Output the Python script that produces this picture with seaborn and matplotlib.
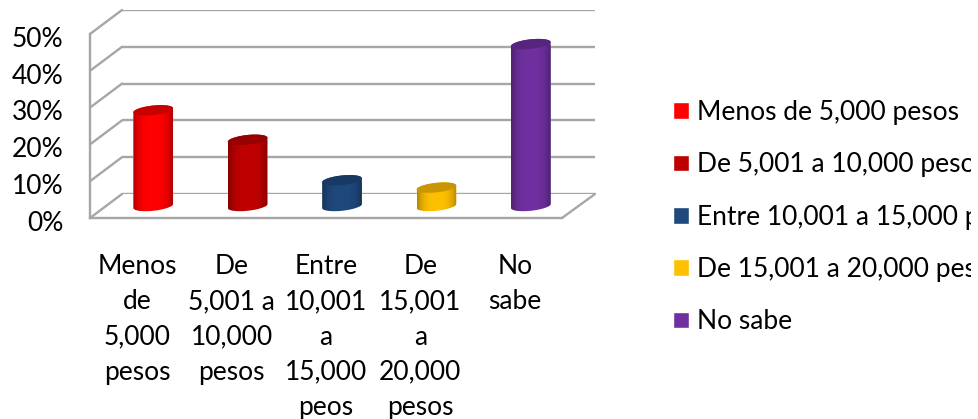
import numpy as np
import pandas as pd
import seaborn as sns
import matplotlib.pyplot as plt
from matplotlib.lines import Line2D
from matplotlib.patches import PathPatch, Polygon, Rectangle
from matplotlib.path import Path
from matplotlib.ticker import PercentFormatter
from matplotlib.transforms import ScaledTranslation

W, H = 979, 419

categories = ["Menos de 5,000 pesos", "De 5,001 a 10,000 pesos", "Entre 10,001 a 15,000 pesos",
              "De 15,001 a 20,000 pesos", "No sabe"]
tick_labels = ["Menos\nde\n5,000\npesos", "De\n5,001 a\n10,000\npesos", "Entre\n10,001\na\n15,000\npeos",
               "De\n15,001\na\n20,000\npesos", "No\nsabe"]
values = [26, 18, 7, 5, 44]
colors = ["#FF0000", "#C00000", "#1F497D", "#FFC000", "#7030A0"]
y_ticks = [0, 10, 20, 30, 40, 50]

GRID = "#a6a6a6"
FONT = 19

sns.set_theme(style="white")
plt.rcParams["font.family"] = ["Lato", "DejaVu Sans"]


# axes from pixel box of the image
def add_axes_px(fig, left, right, top, bottom, zorder):
    ax = fig.add_axes([left / W, 1 - bottom / H, (right - left) / W, (bottom - top) / H], zorder=zorder)
    ax.patch.set_alpha(0)
    ax.set_xlim(-0.5, 4.5)
    ax.set_ylim(0, 50)
    return ax


# line between two image pixels
def px_line(fig, x0, y0, x1, y1):
    fig.add_artist(Line2D([x0 / W, x1 / W], [1 - y0 / H, 1 - y1 / H], color=GRID, lw=1.7,
                          transform=fig.transFigure, zorder=0))


def shade(color, factor):
    rgb = np.array(plt.matplotlib.colors.to_rgb(color))
    return tuple(rgb * factor)


# ellipse points, tilted up to the right by a shear
def ellipse_pts(cx, cy, a, b, tilt, t):
    return np.column_stack([cx + a * np.cos(t), cy + b * np.sin(t) + tilt * np.cos(t)])


fig = plt.figure(figsize=(W / 100, H / 100), dpi=100)

# back wall with the gridlines
ax_back = add_axes_px(fig, 122, 595, 10, 194, 0)
ax_back.set_yticks(y_ticks)
ax_back.set_xticks([])
ax_back.set_yticklabels([])
ax_back.grid(axis="y", color=GRID, lw=1.7)
ax_back.tick_params(length=0)
sns.despine(ax=ax_back, left=True, bottom=True)

# front plane carries the axis labels
ax_front = add_axes_px(fig, 90, 562, 34, 218, 1)
ax_front.set_yticks(y_ticks)
ax_front.yaxis.set_major_formatter(PercentFormatter(decimals=0))
ax_front.set_xticks(range(5))
ax_front.set_xticklabels(tick_labels, linespacing=1.51)
ax_front.tick_params(axis="y", length=0, pad=19, labelsize=FONT, labelcolor="black")
ax_front.tick_params(axis="x", length=0, pad=26, labelsize=FONT, labelcolor="black")
for lab in ax_front.get_yticklabels():
    lab.set_transform(lab.get_transform() + ScaledTranslation(0, -2 / 72, fig.dpi_scale_trans))
sns.despine(ax=ax_front, top=True, right=True)
for side in ["left", "bottom"]:
    ax_front.spines[side].set_color(GRID)
    ax_front.spines[side].set_linewidth(1.7)

# side wall and floor edges
for i in range(6):
    y = 218 - i * 36.8
    px_line(fig, 90, y, 122, y - 24)
px_line(fig, 562, 218, 595, 194)

# bars stand in the middle of the floor, the box reaches a little lower for the round base
ax = add_axes_px(fig, 106, 578, 22, 206 + 3 * 3.68, 2)
df = pd.DataFrame({"categoria": categories, "valor": values})
sns.barplot(data=df, x="categoria", y="valor", hue="categoria", palette=colors, hue_order=categories,
            order=categories, width=0.42, saturation=1, legend=True, ax=ax)
ax.axis("off")

handles, labels = ax.get_legend_handles_labels()
ax.get_legend().remove()

# rounded body, gradient and darker top for each bar
b, tilt = 1.3, 0.55
bars = [c[0] for c in ax.containers]
for bar, color in zip(bars, colors):
    a = bar.get_width() / 2
    cx = bar.get_x() + a
    top = bar.get_height()
    lower = ellipse_pts(cx, 0, a, b, tilt, np.linspace(np.pi, 2 * np.pi, 30))
    upper = ellipse_pts(cx, top, a, b, tilt, np.linspace(0, np.pi, 30))
    outline = np.vstack([lower, upper, lower[:1]])
    body = Path(outline, closed=True)
    patch = PathPatch(body, transform=ax.transData, fc="none", ec="none")
    ax.add_patch(patch)
    bar.set_clip_path(patch)
    pos = np.linspace(-1, 1, 64)
    factors = 1 - 0.3 * np.abs(pos) ** 3
    grad = np.array([[shade(color, f) for f in factors]])
    im = ax.imshow(grad, extent=[cx - a, cx + a, -b - tilt, top + b + tilt], aspect="auto", zorder=3)
    im.set_clip_path(patch)
    cap = ellipse_pts(cx, top, a, b, tilt, np.linspace(0, 2 * np.pi, 60))
    ax.add_patch(Polygon(cap, closed=True, fc=shade(color, 0.78), ec="none", zorder=4))
ax.set_xlim(-0.5, 4.5)
ax.set_ylim(-3, 50)

leg = fig.legend(handles, labels, loc="upper left", bbox_to_anchor=(673 / W, 1 - 100 / H), frameon=False,
                 fontsize=FONT, handlelength=0.6, handleheight=0.6, handletextpad=0.3,
                 labelspacing=1.035, borderaxespad=0, borderpad=0)
for t in leg.get_texts():
    t.set_color("black")

# legend is cut off a little before the image edge
fig.add_artist(Rectangle((971 / W, 0), 8 / W, 1, transform=fig.transFigure, fc="white", ec="none", zorder=10))

fig.savefig("out.png", dpi=100)
